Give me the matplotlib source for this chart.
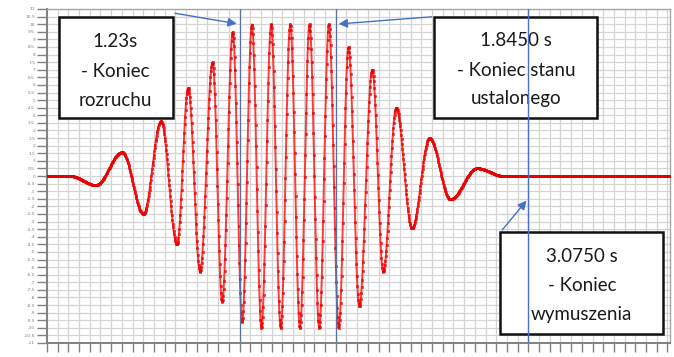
import numpy as np
import matplotlib.pyplot as plt
from matplotlib.patches import Rectangle

# turning points of the response (time [s], displacement)
turn_t = [0.0, 0.147, 0.313, 0.480, 0.617, 0.729, 0.831, 0.902, 0.978, 1.058,
          1.119, 1.187, 1.247, 1.309, 1.370, 1.432, 1.493, 1.554, 1.616, 1.677,
          1.739, 1.801, 1.864, 1.926, 1.995, 2.078, 2.148, 2.231, 2.332, 2.444,
          2.577, 2.747, 2.916, 3.075, 4.0]
turn_v = [0.0, 0.0, -0.6, 1.56, -2.5, 3.6, -4.5, 5.8, -6.3, 7.5,
          -8.3, 9.5, -9.6, 10.0, -10.0, 10.0, -10.0, 10.0, -10.0, 10.0,
          -10.0, 10.0, -10.0, 8.5, -8.6, 7.0, -6.3, 4.47, -3.45, 2.49,
          -1.54, 0.51, 0.0, 0.0, 0.0]

t_start_up = 1.23     # koniec rozruchu
t_steady_end = 1.845  # koniec stanu ustalonego
t_force_end = 3.075   # koniec wymuszenia

box_texts = [
    ["1.23s", "- Koniec", "rozruchu"],
    ["1.8450 s", "- Koniec stanu", "ustalonego"],
    ["3.0750 s", "- Koniec", "wymuszenia"],
]

# sample the response between turning points with half-cosine arcs
dt = 0.0028
t = np.arange(0, 4.0 + dt, dt)
y = np.zeros_like(t)
for i in range(len(turn_t) - 1):
    t0, t1 = turn_t[i], turn_t[i + 1]
    v0, v1 = turn_v[i], turn_v[i + 1]
    m = (t >= t0) & (t <= t1)
    s = (t[m] - t0) / (t1 - t0)
    y[m] = v0 + (v1 - v0) * (1 - np.cos(np.pi * s)) / 2

fig = plt.figure(figsize=(6.74, 3.57), dpi=100)
ax = fig.add_axes([47 / 674, 14 / 357, 623 / 674, 334 / 357])

ax.plot(t, y, color='#ff1a1a', lw=1.4, alpha=0.85, marker='s', ms=2.0,
        mfc='#ff0000', mec='#e00000', mew=0.4, zorder=3)

ax.set_xlim(0, 3.98)
ax.set_ylim(-11, 11)
yt = np.arange(-11, 11.01, 0.5)
ax.set_yticks(yt)
ax.set_yticklabels([f"{v:g}" for v in yt], fontsize=3.2, color='#7f7f7f')
xt = np.arange(0, 3.98, 0.0683333)
ax.set_xticks(xt)
ax.set_xticklabels([])
ax.tick_params(axis='y', length=7, width=1, color='#808080', pad=1.5)
ax.tick_params(axis='x', length=6.5, width=1, color='#808080')
ax.grid(True, color='#d4d4d4', lw=0.9, zorder=0)
ax.set_axisbelow(True)
for side in ['left', 'bottom']:
    ax.spines[side].set_color('#808080')
    ax.spines[side].set_linewidth(1.4)
for side in ['top', 'right']:
    ax.spines[side].set_color('#a6a6a6')
    ax.spines[side].set_linewidth(1.0)

# annotation boxes: (x0, y0, width, height), text centre x, line centres y
boxes = [
    ((0.074, 3.82), 0.728, 6.65, 0.438, [8.85, 6.87, 5.0]),
    ((2.475, 3.82), 1.041, 6.65, 2.996, [8.91, 6.94, 5.1]),
    ((2.897, -10.41), 1.041, 6.72, 3.417, [-5.27, -7.18, -9.1]),
]
for (xy, w, h, cx, ys), lines in zip(boxes, box_texts):
    ax.add_patch(Rectangle(xy, w, h, facecolor='white', edgecolor='#111111',
                           lw=1.8, zorder=5))
    for yy, txt in zip(ys, lines):
        ax.text(cx, yy, txt, ha='center', va='center', fontsize=13.5,
                family='Lato', color='#1a1a1a', zorder=6)

for tv in [t_start_up, t_steady_end]:
    ax.axvline(tv, color='#5a6f9a', lw=0.9, zorder=7)
ax.axvline(t_force_end, color='#4472c4', lw=1.0, zorder=7)

arrow = dict(arrowstyle='-|>', color='#4472c4', lw=1.0, mutation_scale=13)
ax.annotate('', xy=(t_start_up, 10.0), xytext=(0.80, 10.75),
            arrowprops=arrow, zorder=8)
ax.annotate('', xy=(t_steady_end, 10.0), xytext=(2.475, 10.5),
            arrowprops=arrow, zorder=8)
ax.annotate('', xy=(t_force_end, -1.48), xytext=(2.897, -3.69),
            arrowprops=arrow, zorder=8)

fig.savefig('out.png', dpi=100)
